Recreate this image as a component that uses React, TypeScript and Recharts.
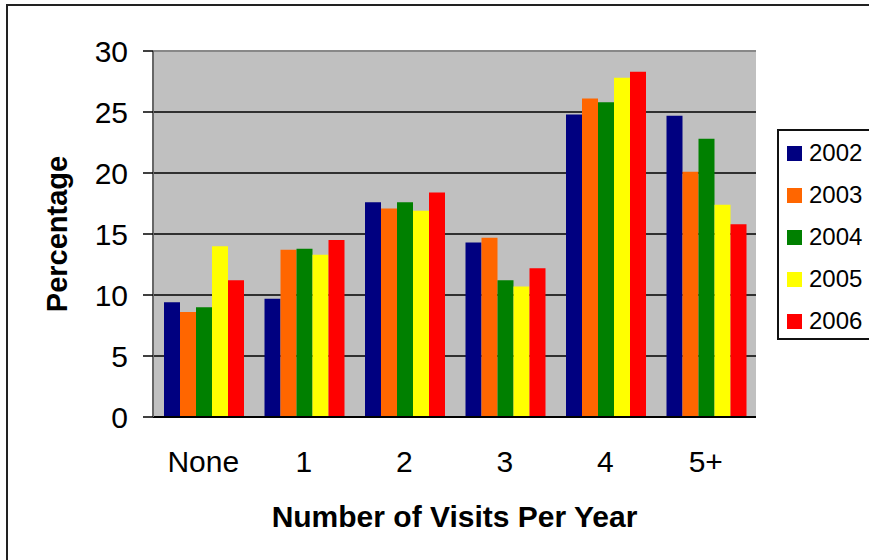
import React from "react";
import {BarChart, Bar, XAxis, YAxis, CartesianGrid, Label, ReferenceLine} from "recharts";

const categories = ["None", "1", "2", "3", "4", "5+"];
const years = ["2002", "2003", "2004", "2005", "2006"];
const v2002 = [9.4, 9.7, 17.6, 14.3, 24.8, 24.7];
const v2003 = [8.6, 13.7, 17.1, 14.7, 26.1, 20.1];
const v2004 = [9.0, 13.8, 17.6, 11.2, 25.8, 22.8];
const v2005 = [14.0, 13.3, 16.9, 10.7, 27.8, 17.4];
const v2006 = [11.2, 14.5, 18.4, 12.2, 28.3, 15.8];
const yTicks = [0, 5, 10, 15, 20, 25, 30];
const colors = ["#000080", "#FF6600", "#008000", "#FFFF00", "#FF0000"];

const seriesValues = [v2002, v2003, v2004, v2005, v2006];
const data = categories.map((c, i) => {
    const row: any = {name: c};
    years.forEach((y, k) => {
        row[y] = seriesValues[k][i];
    });
    return row;
});

const font = "'Liberation Sans', Arial, sans-serif";

// legend box like the excel one, each swatch + year
const LegendBox = () => (
    <div style={{position: "absolute", left: 777, top: 129, border: "2px solid #111", background: "#fff", width: 110, height: 211, boxSizing: "border-box", paddingTop: 1}}>
        {years.map((y, k) => (
            <div key={y} style={{display: "flex", alignItems: "center", height: 42, fontFamily: font, fontSize: 24, color: "#000"}}>
                <span style={{display: "inline-block", width: 15, height: 15, background: colors[k], marginLeft: 8, marginRight: 7}} />
                {y}
            </div>
        ))}
    </div>
);

const YTitle = (props: any) => {
    const vb = props.viewBox;
    const cx = 57;
    const cy = vb.y + vb.height / 2;
    return (
        <text x={cx} y={cy} transform={`rotate(-90, ${cx}, ${cy})`} textAnchor="middle" dominantBaseline="central"
              style={{fontFamily: font, fontSize: 29, fontWeight: "bold", fill: "#000"}}>
            Percentage
        </text>
    );
};

export default function App() {
    return (
        <div style={{position: "absolute", left: 0, top: 0, width: 869, height: 560, overflow: "hidden", background: "#fff"}}>
            <div style={{position: "absolute", left: 6, top: 4, width: 1000, height: 1000, border: "2px solid #222"}} />
            <div style={{position: "absolute", left: 0, top: 0}}>
                <BarChart width={869} height={560} data={data}
                          margin={{top: 51, right: 113, bottom: 19, left: 0}}
                          barCategoryGap={11} barGap={0}>
                    <CartesianGrid fill="#C0C0C0" fillOpacity={1} vertical={false} stroke="#000" strokeWidth={1.5}
                                   horizontalValues={[5, 10, 15, 20, 25]} />
                    <XAxis xAxisId="edges" type="number" domain={[0, 6]} ticks={[0, 1, 2, 3, 4, 5, 6]} height={0}
                           tick={false} tickSize={10} axisLine={false} tickLine={{stroke: "#777", strokeWidth: 2}} allowDataOverflow />
                    <XAxis dataKey="name" height={124} tickLine={false} tickSize={0} tickMargin={34}
                           axisLine={{stroke: "#000", strokeWidth: 2}}
                           tick={{fontFamily: font, fontSize: 30, fill: "#000"}}>
                        <Label value="Number of Visits Per Year" position="insideBottom" offset={14}
                               style={{fontFamily: font, fontSize: 30, fontWeight: "bold", fill: "#000"}} />
                    </XAxis>
                    <YAxis width={153} domain={[0, 30]} ticks={yTicks} interval={0} tickSize={10} tickMargin={15}
                           axisLine={{stroke: "#666", strokeWidth: 2}} tickLine={{stroke: "#000", strokeWidth: 1.5}}
                           tick={{fontFamily: font, fontSize: 30, fill: "#000"}}>
                        <Label content={<YTitle />} />
                    </YAxis>
                    <YAxis yAxisId="right" orientation="right" width={0} domain={[0, 30]} tick={false} tickLine={false}
                           axisLine={{stroke: "#888", strokeWidth: 2}} />
                    <ReferenceLine y={30} stroke="#888" strokeWidth={2} />
                    {years.map((y, k) => (
                        <Bar key={y} dataKey={y} fill={colors[k]} isAnimationActive={false} />
                    ))}
                </BarChart>
            </div>
            <LegendBox />
        </div>
    );
}
